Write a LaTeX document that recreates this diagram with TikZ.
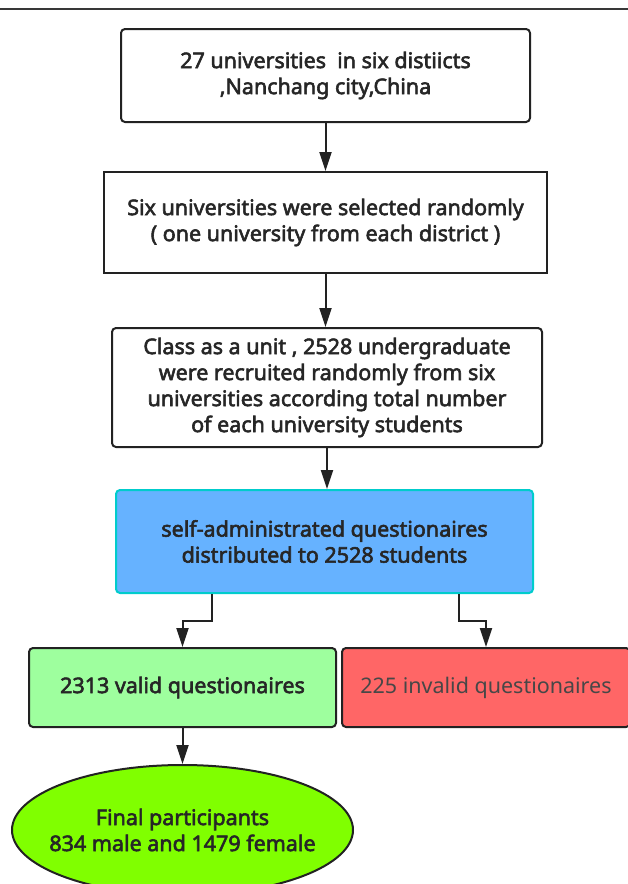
\documentclass[tikz,border=0pt]{standalone}
\usepackage{fontspec}
\setmainfont{Noto Sans}[BoldFont={Noto Sans},BoldFeatures={FakeBold=2.6}]
\usetikzlibrary{arrows.meta,shapes.geometric}
\definecolor{edge}{HTML}{222222}
\definecolor{ink}{HTML}{262626}
\definecolor{bluefill}{HTML}{66B2FF}
\definecolor{cyanline}{HTML}{00CCCC}
\definecolor{greenfill}{HTML}{9EFF9E}
\definecolor{redfill}{HTML}{FF6666}
\definecolor{limefill}{HTML}{80FF00}
\tikzset{
  box/.style={draw=edge,line width=2pt,rounded corners=4pt,align=center,text=ink,
    inner sep=0pt,font=\fontsize{21.5}{26}\selectfont\bfseries},
  flow/.style={draw=edge,line width=2pt}
}
\begin{document}
\begin{tikzpicture}[x=1pt,y=-1pt,>={Triangle[length=19pt,width=12pt]}]
\useasboundingbox(0,0)rectangle(628,884);
\draw[edge!90,line width=1.5pt](0,9)--(628,9);
\node[box,minimum width=409pt,minimum height=93pt](uni)at(325.5,75.5){27 universities\ \ in six distiicts\\,Nanchang city,China};
\node[box,sharp corners,minimum width=443pt,minimum height=101pt](sel)at(325.5,222.5){Six universities were selected randomly\\( one university from each district )};
\node[box,minimum width=430pt,minimum height=119pt](cls)at(327,387.5){Class as a unit , 2528 undergraduate\\were recruited randomly from six\\universities according total number\\of each university students};
\node[box,draw=cyanline,fill=bluefill,minimum width=417pt,minimum height=103pt](dist)at(324.5,541.5){self-administrated questionaires\\distributed to 2528 students};
\node[box,fill=greenfill,minimum width=307pt,minimum height=79pt](valid)at(182.5,687.5){2313 valid questionaires};
\node[box,fill=redfill,minimum width=288pt,minimum height=79pt,font=\fontsize{21.5}{26}\selectfont,text=ink!85](invalid)at(486,687.5){225 invalid questionaires};
\node[box,ellipse,inner sep=-40pt,fill=limefill,minimum width=341pt,minimum height=130pt](final)at(182.5,830){Final participants\\834 male and 1479 female};
\draw[flow,->](uni)--(sel);
\draw[flow,->](sel)--(sel|-cls.north);
\draw[flow,->](cls)--(cls|-dist.north);
\draw[flow,->]([xshift=-112.5pt]dist.south)--++(0,27)-|(valid.north);
\draw[flow,->]([xshift=134.5pt]dist.south)--++(0,27)-|(invalid.north);
\draw[flow,->](valid)--(final);
\end{tikzpicture}
\end{document}
